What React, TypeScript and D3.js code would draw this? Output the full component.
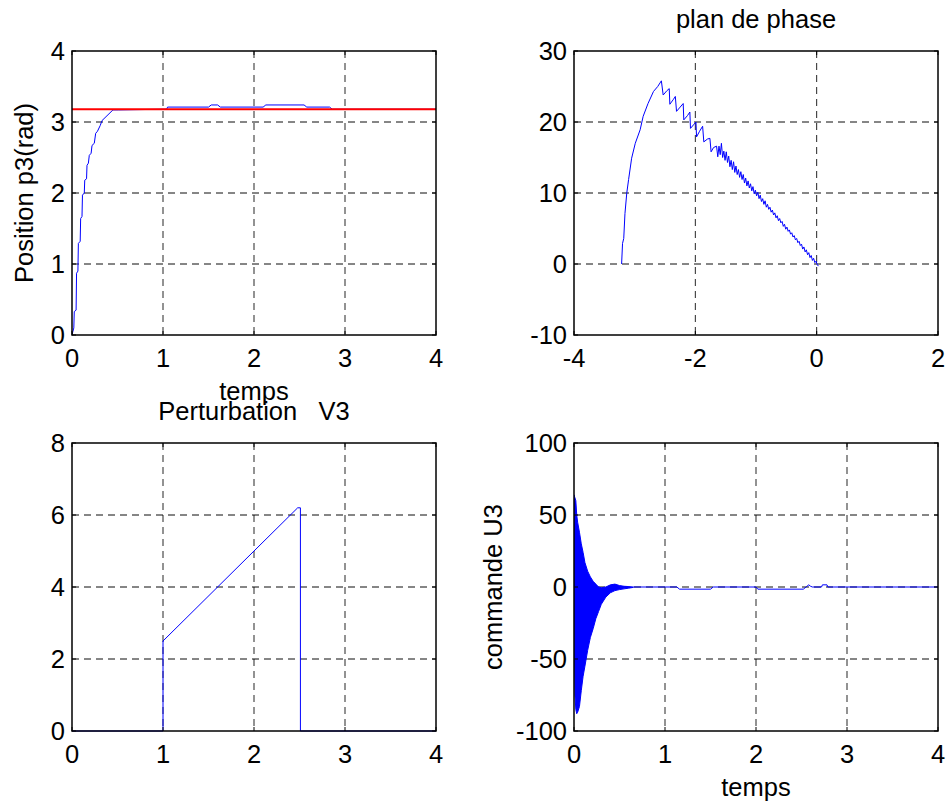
import React from "react";
import * as d3 from "d3";

// ---------- data ----------
const posT = [0, 0.01, 0.02, 0.025, 0.045, 0.05, 0.065, 0.07, 0.09, 0.095, 0.11, 0.115, 0.135, 0.14, 0.16, 0.165, 0.18, 0.19, 0.21, 0.22, 0.245, 0.26, 0.28, 0.31, 0.33, 0.45, 0.51, 1.0, 1.04, 1.05, 1.5, 1.53, 1.6, 1.63, 2.1, 2.13, 2.55, 2.58, 2.83, 2.86, 4];
const posV = [0, 0.05, 0.1, 0.33, 0.35, 0.87, 0.9, 1.29, 1.32, 1.64, 1.67, 1.97, 2.0, 2.18, 2.2, 2.39, 2.42, 2.53, 2.56, 2.67, 2.7, 2.84, 2.87, 2.95, 3.02, 3.17, 3.17, 3.18, 3.18, 3.21, 3.21, 3.24, 3.24, 3.21, 3.21, 3.24, 3.24, 3.21, 3.21, 3.18, 3.18];
const refT = [0, 4];
const refV = [3.18, 3.18];

const phaseX = [
  -3.215, -3.2, -3.18, -3.16, -3.13, -3.1, -3.05, -2.99, -2.91, -2.86, -2.78, -2.69, -2.62, -2.56,
  -2.53, -2.47, -2.43, -2.42, -2.36, -2.33, -2.31, -2.25, -2.2, -2.19, -2.13, -2.09, -2.08, -2.03, -1.99, -1.98, -1.93, -1.88, -1.86, -1.8, -1.76, -1.74, -1.7, -1.65,
  -1.63, -1.61, -1.59, -1.57, -1.55, -1.53, -1.51, -1.49, -1.47, -1.45,
  -1.43, -1.41, -1.39, -1.37, -1.35, -1.33, -1.31, -1.29, -1.27, -1.25,
  -1.23, -1.21, -1.19, -1.17, -1.15, -1.13, -1.11, -1.09, -1.07, -1.05,
  -1.03, -1.01, -0.99, -0.97, -0.95, -0.93, -0.91, -0.89, -0.87, -0.85,
  -0.83, -0.81, -0.79, -0.77, -0.75, -0.73, -0.71, -0.69, -0.67, -0.65,
  -0.63, -0.61, -0.59, -0.57, -0.55, -0.53, -0.51, -0.49, -0.47, -0.45,
  -0.43, -0.41, -0.39, -0.37, -0.35, -0.33, -0.31, -0.29, -0.27, -0.25,
  -0.23, -0.21, -0.19, -0.17, -0.15, -0.13, -0.11, -0.09, -0.07, -0.05,
  -0.03, -0.01, 0.01, 0.03,
];
const phaseY = [
  0, 2.9, 3.6, 7.1, 10, 11.9, 14.9, 17.0, 18.9, 20.8, 22.6, 24.3, 25.0, 25.8,
  23.8, 24.4, 24.7, 22.5, 23.2, 23.6, 21.5, 22.1, 22.6, 20.3, 20.9, 21.4, 19.1, 19.6, 20.0, 17.9, 18.7, 19.4, 17.2, 17.6, 17.7, 15.8, 16.4, 16.6,
  15.1, 16.6, 15.4, 17.0, 15.0, 15.9, 14.6, 15.8, 14.3, 15.2,
  13.7, 14.6, 13.3, 14.4, 12.9, 13.8, 12.6, 13.3, 12.2, 13.0,
  11.9, 12.6, 11.4, 12.1, 11.0, 11.7, 10.7, 11.3, 10.3, 10.9,
  9.9, 10.4, 9.6, 10.1, 9.2, 9.7, 8.8, 9.2, 8.4, 8.9,
  8.0, 8.4, 7.7, 8.0, 7.3, 7.6, 6.9, 7.2, 6.5, 6.8,
  6.1, 6.4, 5.8, 6.0, 5.3, 5.6, 4.9, 5.2, 4.6, 4.8,
  4.2, 4.4, 3.8, 4.0, 3.4, 3.6, 3.0, 3.2, 2.6, 2.8,
  2.1, 2.4, 1.7, 2.0, 1.3, 1.6, 0.9, 1.2, 0.5, 0.8,
  0.2, 0.4, -0.1, -0.3,
];

const vT = [0, 1, 1, 2.48, 2.51, 2.51, 4];
const vV = [0, 0, 2.5, 6.2, 6.2, 0, 0];

const uT = [0, 0.01, 0.02, 0.03, 0.04, 0.06, 0.08, 0.1, 0.12, 0.15, 0.18, 0.21, 0.24, 0.27, 0.3, 0.35, 0.4, 0.45, 0.5, 0.55, 0.6, 0.65];
const uHigh = [64, 62, 60, 50, 45, 38, 30, 24, 17, 11, 7, 4, 2, 0, -0.5, 0, 1.5, 2, 1, 0.5, 0.3, 0];
const uLow = [-20, -75, -85, -88, -87, -83, -72, -62, -55, -44, -35, -29, -22, -17, -12, -7, -4, -2.5, -1.8, -1.3, -0.8, -0.3];
const uTailT = [0.65, 1.13, 1.16, 1.5, 1.53, 2.0, 2.02, 2.52, 2.55, 2.58, 2.6, 2.62, 2.72, 2.73, 2.78, 2.79, 4];
const uTailV = [0, 0, -1.5, -1.5, 0, 0, -1.5, -1.5, 0, 1.5, 0.5, 0, 0, 1.5, 1.5, 0, 0];

const ticks0to4 = [0, 1, 2, 3, 4];
const posYTicks = [0, 1, 2, 3, 4];
const phaseXTicks = [-4, -2, 0, 2];
const phaseYTicks = [-10, 0, 10, 20, 30];
const vYTicks = [0, 2, 4, 6, 8];
const uYTicks = [-100, -50, 0, 50, 100];

// ---------- layout ----------
const FONT = "'Liberation Sans', Arial, sans-serif";
const FS = 25.5;
const BLUE = "#0000ff";

type Box = { x0: number; x1: number; y0: number; y1: number };

function Panel(props: {
  box: Box;
  xDomain: [number, number];
  yDomain: [number, number];
  xTicks: number[];
  yTicks: number[];
  title?: string;
  xLabel?: string;
  yLabel?: string;
  yLabelOffset?: number;
  children: (x: d3.ScaleLinear<number, number>, y: d3.ScaleLinear<number, number>) => React.ReactNode;
}) {
  const { box, xDomain, yDomain, xTicks, yTicks, title, xLabel, yLabel } = props;
  const x = d3.scaleLinear().domain(xDomain).range([box.x0, box.x1]);
  const y = d3.scaleLinear().domain(yDomain).range([box.y1, box.y0]);
  const cx = (box.x0 + box.x1) / 2;
  const cy = (box.y0 + box.y1) / 2;
  const clipId = `clip-${box.x0}-${box.y0}`;
  return (
    <g>
      <defs>
        <clipPath id={clipId}>
          <rect x={box.x0} y={box.y0 - 1} width={box.x1 - box.x0} height={box.y1 - box.y0 + 2} />
        </clipPath>
      </defs>
      <rect x={box.x0} y={box.y0} width={box.x1 - box.x0} height={box.y1 - box.y0} fill="#fff" />
      {xTicks.slice(1, -1).map((t) => (
        <line key={"gx" + t} x1={x(t)} x2={x(t)} y1={box.y0} y2={box.y1} stroke="#000" strokeWidth={1} strokeDasharray="7,5" opacity={0.85} />
      ))}
      {yTicks.slice(1, -1).map((t) => (
        <line key={"gy" + t} x1={box.x0} x2={box.x1} y1={y(t)} y2={y(t)} stroke="#000" strokeWidth={1} strokeDasharray="7,5" opacity={0.95} />
      ))}
      <g clipPath={`url(#${clipId})`}>{props.children(x, y)}</g>
      <rect x={box.x0} y={box.y0} width={box.x1 - box.x0} height={box.y1 - box.y0} fill="none" stroke="#000" strokeWidth={1.5} />
      {xTicks.map((t) => (
        <g key={"tx" + t}>
          <line x1={x(t)} x2={x(t)} y1={box.y1} y2={box.y1 - 4} stroke="#000" />
          <line x1={x(t)} x2={x(t)} y1={box.y0} y2={box.y0 + 4} stroke="#000" />
          <text x={x(t)} y={box.y1 + 32} textAnchor="middle" fontFamily={FONT} fontSize={FS}>{t}</text>
        </g>
      ))}
      {yTicks.map((t) => (
        <g key={"ty" + t}>
          <line x1={box.x0} x2={box.x0 + 4} y1={y(t)} y2={y(t)} stroke="#000" />
          <line x1={box.x1} x2={box.x1 - 4} y1={y(t)} y2={y(t)} stroke="#000" />
          <text x={box.x0 - 7} y={y(t) + 9} textAnchor="end" fontFamily={FONT} fontSize={FS}>{t}</text>
        </g>
      ))}
      {title && (
        <text x={cx} y={box.y0 - 23} textAnchor="middle" fontFamily={FONT} fontSize={FS} style={{ whiteSpace: "pre" }}>{title}</text>
      )}
      {xLabel && (
        <text x={cx} y={box.y1 + 65} textAnchor="middle" fontFamily={FONT} fontSize={FS}>{xLabel}</text>
      )}
      {yLabel && (
        <text transform={`translate(${box.x0 - (props.yLabelOffset ?? 39)},${cy}) rotate(-90)`} textAnchor="middle" fontFamily={FONT} fontSize={FS}>{yLabel}</text>
      )}
    </g>
  );
}

function pathOf(xs: number[], ys: number[], x: any, y: any) {
  const pts = xs.map((v, i) => [v, ys[i]] as [number, number]);
  return d3.line<[number, number]>().x((d) => x(d[0])).y((d) => y(d[1]))(pts) || "";
}

export default function App() {
  const TL: Box = { x0: 72, x1: 436, y0: 51, y1: 335 };
  const TR: Box = { x0: 574, x1: 938, y0: 51, y1: 335 };
  const BL: Box = { x0: 72, x1: 436, y0: 443, y1: 731 };
  const BR: Box = { x0: 574, x1: 938, y0: 443, y1: 731 };
  return (
    <svg width={951} height={804} style={{ position: "absolute", left: 0, top: 0, background: "#fff" }}>
      <rect width={951} height={804} fill="#fff" />
      <Panel box={TL} xDomain={[0, 4]} yDomain={[0, 4]} xTicks={ticks0to4} yTicks={posYTicks} xLabel="temps" yLabel="Position p3(rad)" yLabelOffset={39}>
        {(x, y) => (
          <>
            <path d={pathOf(posT, posV, x, y)} fill="none" stroke={BLUE} strokeWidth={1} />
            <path d={pathOf(refT, refV, x, y)} fill="none" stroke="#ff0000" strokeWidth={2} />
          </>
        )}
      </Panel>
      <Panel box={TR} xDomain={[-4, 2]} yDomain={[-10, 30]} xTicks={phaseXTicks} yTicks={phaseYTicks} title="plan de phase">
        {(x, y) => <path d={pathOf(phaseX, phaseY, x, y)} fill="none" stroke={BLUE} strokeWidth={1} />}
      </Panel>
      <Panel box={BL} xDomain={[0, 4]} yDomain={[0, 8]} xTicks={ticks0to4} yTicks={vYTicks} title={"Perturbation   V3"}>
        {(x, y) => <path d={pathOf(vT, vV, x, y)} fill="none" stroke={BLUE} strokeWidth={1} />}
      </Panel>
      <Panel box={BR} xDomain={[0, 4]} yDomain={[-100, 100]} xTicks={ticks0to4} yTicks={uYTicks} xLabel="temps" yLabel="commande U3" yLabelOffset={72}>
        {(x, y) => {
          const area = d3
            .area<number>()
            .x((_, i) => x(uT[i]))
            .y0((_, i) => y(uLow[i]))
            .y1((_, i) => y(uHigh[i]))(uT) || "";
          return (
            <>
              <path d={area} fill={BLUE} stroke={BLUE} strokeWidth={1} />
              <path d={pathOf(uTailT, uTailV, x, y)} fill="none" stroke={BLUE} strokeWidth={1} />
            </>
          );
        }}
      </Panel>
    </svg>
  );
}
